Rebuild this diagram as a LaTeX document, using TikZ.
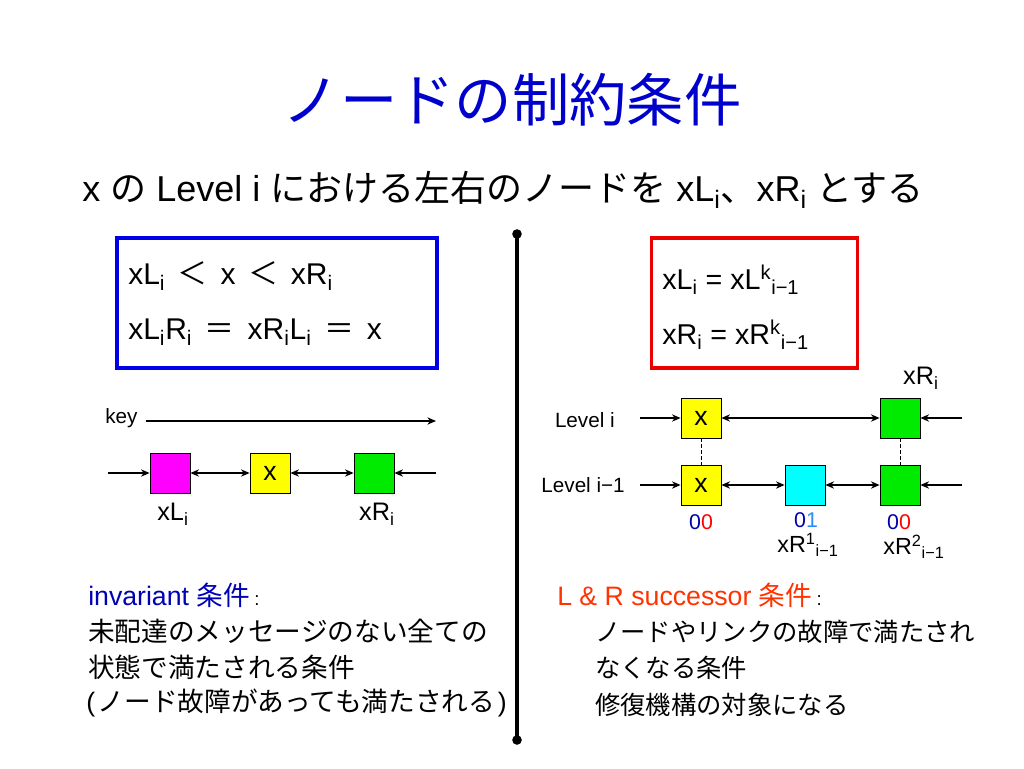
\documentclass[tikz,border=0pt]{standalone}
\usepackage{fontspec}
\setmainfont{Liberation Sans}
\newfontfamily\jp{Noto Sans CJK JP}
\usetikzlibrary{arrows.meta}
\definecolor{ttlblue}{RGB}{0,0,204}
\definecolor{boxblue}{RGB}{0,0,230}
\definecolor{boxred}{RGB}{235,0,0}
\definecolor{invblue}{RGB}{0,0,180}
\definecolor{lsred}{RGB}{255,50,0}
\definecolor{dblue}{RGB}{0,0,170}
\definecolor{lblue}{RGB}{40,140,255}
\definecolor{sqgreen}{RGB}{0,235,0}
\definecolor{sqcyan}{RGB}{0,255,255}
\definecolor{sqmag}{RGB}{255,0,255}
\definecolor{sqyel}{RGB}{255,255,0}
\newcommand{\sbs}[1]{\textsubscript{#1}}
\newcommand{\sps}[1]{\textsuperscript{#1}}
\newcommand{\wsym}[1]{\hspace{9.5pt}{\jp #1}\hspace{9.5pt}}
\begin{document}
\begin{tikzpicture}[x=0.75pt,y=-0.75pt,
  sq/.style={draw=black,line width=0.6pt,minimum size=30pt,inner sep=0pt,font=\fontsize{20}{20}\selectfont},
  arr/.style={-{Stealth[length=6.5pt,width=5.5pt]},line width=0.8pt},
  darr/.style={{Stealth[length=6.5pt,width=5.5pt]}-{Stealth[length=6.5pt,width=5.5pt]},line width=0.8pt},
  txt/.style={anchor=west,inner sep=0pt,font=\fontsize{20}{24}\selectfont},
  rtxt/.style={anchor=west,inner sep=0pt,font=\fontsize{19}{24}\selectfont},
  eq/.style={anchor=west,inner sep=0pt,font=\fontsize{22.5}{26}\selectfont},
  req/.style={anchor=west,inner sep=0pt,font=\fontsize{21.5}{26}\selectfont},
  small/.style={inner sep=0pt,font=\fontsize{15.5}{17}\selectfont},
  num/.style={inner sep=0pt,font=\fontsize{16}{17}\selectfont},
  lab/.style={inner sep=0pt,font=\fontsize{19}{21}\selectfont},
  lab2/.style={inner sep=0pt,font=\fontsize{17.5}{19}\selectfont}]
\useasboundingbox (0,0) rectangle (1024,768);
% title
\node[inner sep=0pt,text=ttlblue,font=\jp\fontsize{43}{48}\selectfont] (title) at (512,100) {ノードの制約条件};
% subtitle
\node[anchor=west,inner sep=0pt,font=\fontsize{27}{32}\selectfont] (sub) at (82,190)
  {x {\jp の} Level i {\jp における左右のノードを} xL\sbs{i}{\jp 、}xR\sbs{i} {\jp とする}};
% blue box
\node[draw=boxblue,line width=2.3pt,minimum width=240pt,minimum height=97.5pt,inner sep=0pt] (bbox) at (277,303) {};
\node[eq] (b1) at (128,276) {xL\sbs{i}\wsym{＜}x\wsym{＜}xR\sbs{i}};
\node[eq] (b2) at (128,332) {xL\sbs{i}R\sbs{i}\wsym{＝}xR\sbs{i}L\sbs{i}\wsym{＝}x};
% red box
\node[draw=boxred,line width=2.3pt,minimum width=155pt,minimum height=97.5pt,inner sep=0pt] (rbox) at (754.5,303) {};
\node[req] (r1) at (662,280) {xL\sbs{i} = xL\sps{k}\sbs{i−1}};
\node[req] (r2) at (662,335) {xR\sbs{i} = xR\sps{k}\sbs{i−1}};
% vertical divider
\coordinate (vt) at (517,234);
\coordinate (vb) at (517,740);
\draw[line width=2.3pt] (vt) -- (vb);
\fill (vt) circle (3.6pt);
\fill (vb) circle (3.6pt);
% left diagram
\node[small,anchor=west] (key) at (105,418) {key};
\coordinate (keyend) at (436,421);
\draw[arr] ([xshift=6pt]key.east |- keyend) -- (keyend);
\node[sq,fill=sqmag] (ml) at (170,473) {};
\node[sq,fill=sqyel] (my) at (270,473) {x};
\node[sq,fill=sqgreen] (mg) at (374,473) {};
\coordinate (la) at (108,473);
\coordinate (lb) at (436,473);
\draw[arr] (la) -- (ml.west);
\draw[darr] (ml.east) -- (my.west);
\draw[darr] (my.east) -- (mg.west);
\draw[arr] (lb) -- (mg.east);
\node[lab] (mlL) at (173,514) {xL\sbs{i}};
\node[lab] (mgL) at (377,514) {xR\sbs{i}};
% right diagram
\node[small,anchor=east] (lvi) at (615,420) {Level i};
\node[small,anchor=east] (lvj) at (625,485) {Level i−1};
\node[sq,fill=sqyel] (y1) at (701,418) {x};
\node[sq,fill=sqgreen] (g1) at (900,418) {};
\node[sq,fill=sqyel] (y0) at (701,485) {x};
\node[sq,fill=sqcyan] (c0) at (805,485) {};
\node[sq,fill=sqgreen] (g0) at (900,485) {};
\coordinate (a1) at (640,418);
\coordinate (b1e) at (962,418);
\coordinate (a0) at (640,485);
\coordinate (b0e) at (962,485);
\draw[arr] (a1) -- (y1.west);
\draw[darr] (y1.east) -- (g1.west);
\draw[arr] (b1e) -- (g1.east);
\draw[arr] (a0) -- (y0.west);
\draw[darr] (y0.east) -- (c0.west);
\draw[darr] (c0.east) -- (g0.west);
\draw[arr] (b0e) -- (g0.east);
\draw[line width=0.6pt,dash pattern=on 2.5pt off 2pt] (y1.south) -- (y0.north);
\draw[line width=0.6pt,dash pattern=on 2.5pt off 2pt] (g1.south) -- (g0.north);
\node[lab] (gR) at (921,378) {xR\sbs{i}};
\node[num] (n1) at (701,522) {\textcolor{dblue}{0}\textcolor{red}{0}};
\node[num] (n2) at (806,520) {\textcolor{dblue}{0}\textcolor{lblue}{1}};
\node[num] (n3) at (899,522) {\textcolor{dblue}{0}\textcolor{red}{0}};
\node[lab2] (cL) at (808,545) {xR\sps{1}\sbs{i−1}};
\node[lab2] (gL) at (914,547) {xR\sps{2}\sbs{i−1}};
% bottom left text
\node[txt] (il0) at (88,595) {\textcolor{invblue}{invariant {\jp 条件}}\,{\fontsize{14}{14}\selectfont :}};
\node[txt] (il1) at (88,631) {\jp 未配達のメッセージのない全ての};
\node[txt] (il2) at (88,667) {\jp 状態で満たされる条件};
\node[txt] (il3) at (86,703) {(\kern2pt{\jp ノード故障があっても満たされる}\kern2pt)};
% bottom right text
\node[txt] (rl0) at (557,595) {\textcolor{lsred}{L \& R successor {\jp 条件}}\,{\fontsize{14}{14}\selectfont :}};
\node[rtxt] (rl1) at (595,632) {\jp ノードやリンクの故障で満たされ};
\node[rtxt] (rl2) at (595,668) {\jp なくなる条件};
\node[rtxt] (rl3) at (595,705) {\jp 修復機構の対象になる};
\end{tikzpicture}
\end{document}
